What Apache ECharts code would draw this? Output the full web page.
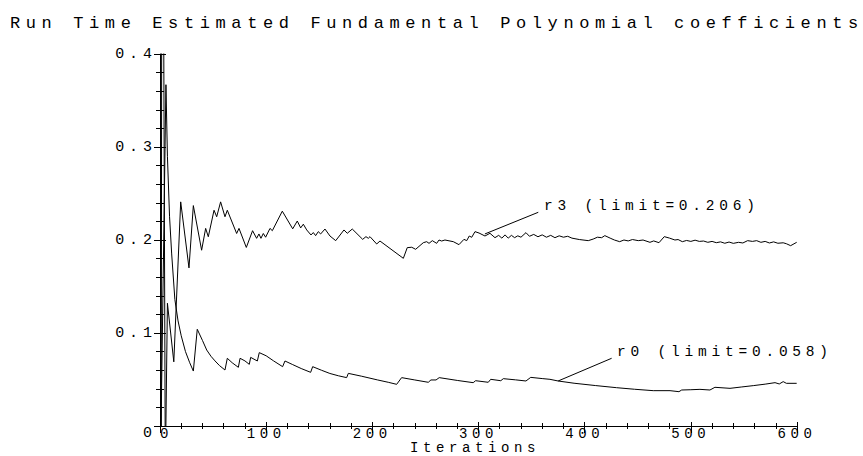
<!DOCTYPE html>
<html><head><meta charset="utf-8">
<script src="https://cdn.jsdelivr.net/npm/echarts@6/dist/echarts.min.js"></script>
<style>
html,body{margin:0;padding:0;background:#fff;}
#main{width:863px;height:456px;}
#main svg text{letter-spacing:0.33em;}
</style></head><body><div id="main"></div>
<script>
const titleText = 'Run Time Estimated Fundamental Polynomial coefficients';
const xAxisTitle = 'Iterations';

// r3 series (upper curve)
const r3Iter = [1,2,5,7,13,19.5,27.3,31.4,39.2,43,45.5,50.9,53.4,57.1,61.2,63.4,72.2,74.4,81.3,87.2,91,93.2,95.1,97.3,99.5,103.6,105.8,115.2,125,129.3,132.5,135,138.2,142.2,144.4,146.6,149.1,151.3,155.4,160.1,165.5,173.3,176.4,181.1,190.9,194,196.2,197.8,204.1,207.2,229.2,232.9,237.1,240.8,248,251.2,253.4,256.5,260.6,262.8,265.3,268.4,276.3,281.6,286.3,288.9,291.3,293.6,296.7,300.5,306.1,310.8,315.5,319,322,325,328,331,334,337,340,344.7,348,352,356,360,364,368,372,376,380,384,388,395,403.4,408,412,416,419,424,428,433,437,441,445,450.5,455,461.5,465,470,475,480,485,488,492,496,500,504,508,512,516,520,524,528,532,536,540,545,549,553.5,558,562,566,570,574,578,582,587,590,594,599.7];
const r3Val = [-0.2,0.9,-0.05,0.132,0.069,0.241,0.170,0.237,0.189,0.2125,0.2035,0.232,0.225,0.241,0.225,0.232,0.207,0.2125,0.192,0.210,0.2018,0.2065,0.2018,0.207,0.203,0.2125,0.210,0.231,0.212,0.2204,0.213,0.217,0.2108,0.2054,0.208,0.2047,0.209,0.2065,0.2118,0.2043,0.1993,0.2108,0.2072,0.2118,0.2007,0.2036,0.2018,0.2036,0.1957,0.1989,0.1803,0.1918,0.1922,0.19,0.1971,0.1982,0.1964,0.1993,0.1964,0.2,0.1989,0.2,0.1982,0.195,0.2007,0.1993,0.2043,0.2029,0.209,0.2075,0.2043,0.2072,0.2025,0.2050,0.2020,0.2055,0.2020,0.2050,0.2025,0.2045,0.2030,0.2079,0.2040,0.2060,0.2035,0.2055,0.2030,0.2050,0.2025,0.2045,0.2030,0.2040,0.2020,0.2005,0.1993,0.2010,0.2030,0.2025,0.2047,0.2020,0.2000,0.1982,0.2000,0.1990,0.2005,0.1993,0.2000,0.1975,0.1990,0.1971,0.2036,0.2020,0.2000,0.2005,0.1982,0.1995,0.1985,0.1998,0.1985,0.1989,0.1975,0.1985,0.1971,0.1980,0.1965,0.1978,0.1964,0.1975,0.1968,0.1993,0.1985,0.1993,0.1975,0.1985,0.1968,0.1980,0.1965,0.1970,0.1960,0.1939,0.1975];

// r0 series (lower curve)
const r0Iter = [1,5.6,7,9,11,14,17,20,24,28,31.4,35.1,40,44,48,51.8,56,61.2,63.4,68,73.8,75.4,80,84.1,85.4,91.7,93.5,100,107,115.5,117.7,125,133,141.9,143.8,152,160,168,175.8,177.4,190,205,215,222.9,227.6,240,252.7,255.2,260,263,280,295,297.3,309.2,311.5,321,323.4,335,344.7,349.2,360,367.3,375,390,410,430,447,464.6,480.4,488.8,491.4,500,508.6,518,522.7,536.9,548,558.8,570,579.3,583.3,587,590,599.7];
const r0Val = [0,0.367,0.29,0.225,0.185,0.136,0.113,0.097,0.080,0.068,0.0591,0.104,0.092,0.0817,0.075,0.070,0.065,0.0602,0.0728,0.068,0.0631,0.0728,0.070,0.0663,0.0738,0.0699,0.0789,0.0755,0.070,0.0638,0.0699,0.0660,0.0618,0.0577,0.0638,0.0600,0.0565,0.054,0.0520,0.0566,0.0535,0.0495,0.047,0.0448,0.0520,0.0495,0.0470,0.0495,0.0495,0.052,0.049,0.0466,0.0487,0.047,0.0502,0.0487,0.0509,0.0496,0.0484,0.0523,0.0510,0.0502,0.0484,0.0460,0.0435,0.0412,0.0395,0.038,0.038,0.0369,0.0387,0.039,0.0394,0.0387,0.0416,0.0405,0.042,0.0434,0.045,0.0466,0.0452,0.0477,0.0459,0.0459];

// annotations (data coordinates)
const r3Note = { text: 'r3 (limit=0.206)', at: [361.7, 0.2366], from: [306, 0.2065], to: [356.3, 0.2298] };
const r0Note = { text: 'r0 (limit=0.058)', at: [430.5, 0.0796], from: [375, 0.0484], to: [425.4, 0.0728] };

const FONT = '"Liberation Mono", "Courier New", monospace';
const zip = (a, b) => a.map((v, i) => [v, b[i]]);

function note(n) {
  return {
    markLine: {
      silent: true, symbol: ['none', 'none'], animation: false,
      lineStyle: { color: '#000', width: 1, type: 'solid' },
      label: { show: false },
      data: [[{ coord: n.from }, { coord: n.to }]]
    },
    markPoint: {
      silent: true, animation: false,
      data: [{ coord: n.at, symbol: 'circle', symbolSize: 0,
        label: { show: true, position: 'right', distance: 0, formatter: n.text,
          color: '#000', fontFamily: FONT, fontSize: 14.5 } }]
    }
  };
}

const chart = echarts.init(document.getElementById('main'), null, { renderer: 'svg' });
const xBase = { type: 'value', min: 0, max: 600, interval: 100, gridIndex: 0, position: 'bottom',
  splitLine: { show: false } };
const yBase = { type: 'value', min: 0, max: 0.4, interval: 0.1, gridIndex: 0, position: 'left',
  splitLine: { show: false } };
chart.setOption({
  animation: false,
  backgroundColor: '#fff',
  title: { text: titleText, left: 5, top: 10,
    textStyle: { fontFamily: FONT, fontSize: 17, fontWeight: 'normal', color: '#000' } },
  grid: { left: 160, right: 66, top: 54, bottom: 30, outerBoundsMode: 'none', containLabel: false },
  xAxis: [
    Object.assign({}, xBase, {
      name: xAxisTitle, nameLocation: 'middle', nameGap: 16, nameMoveOverlap: false,
      nameTextStyle: { fontFamily: FONT, fontSize: 14, lineHeight: 12, color: '#000', padding: [0, 7, 0, 0] },
      axisLine: { show: true, onZero: false, lineStyle: { color: '#000', width: 1 } },
      axisTick: { show: true, inside: false, length: 7, lineStyle: { color: '#000' } },
      minorTick: { show: true, splitNumber: 5, length: 3, lineStyle: { color: '#000' } },
      axisLabel: { margin: 2, fontFamily: FONT, fontSize: 14, lineHeight: 11, color: '#000', alignMinLabel: 'left' }
    }),
    Object.assign({}, xBase, {
      axisLine: { show: false, onZero: false },
      axisTick: { show: true, inside: true, length: 4, lineStyle: { color: '#000' } },
      minorTick: { show: true, splitNumber: 5, length: 3, lineStyle: { color: '#000' } },
      axisLabel: { show: false }
    })
  ],
  yAxis: [
    Object.assign({}, yBase, {
      axisLine: { show: true, onZero: false, lineStyle: { color: '#000', width: 1 } },
      axisTick: { show: true, inside: false, length: 6, lineStyle: { color: '#000' } },
      minorTick: { show: true, splitNumber: 5, length: 4, lineStyle: { color: '#000' } },
      axisLabel: { margin: 3, fontFamily: FONT, fontSize: 15, color: '#000',
        verticalAlignMinLabel: 'top' }
    }),
    Object.assign({}, yBase, {
      axisLine: { show: false, onZero: false },
      axisTick: { show: true, inside: true, length: 6, lineStyle: { color: '#000' } },
      minorTick: { show: true, splitNumber: 5, length: 4, lineStyle: { color: '#000' } },
      axisLabel: { show: false }
    })
  ],
  series: [
    Object.assign({ name: 'r3', type: 'line', xAxisIndex: 0, yAxisIndex: 0, data: zip(r3Iter, r3Val),
      showSymbol: false, symbol: 'none', clip: true,
      lineStyle: { color: '#000', width: 1 } }, note(r3Note)),
    Object.assign({ name: 'r0', type: 'line', xAxisIndex: 0, yAxisIndex: 0, data: zip(r0Iter, r0Val),
      showSymbol: false, symbol: 'none', clip: true,
      lineStyle: { color: '#000', width: 1 } }, note(r0Note))
  ]
});
</script></body></html>
